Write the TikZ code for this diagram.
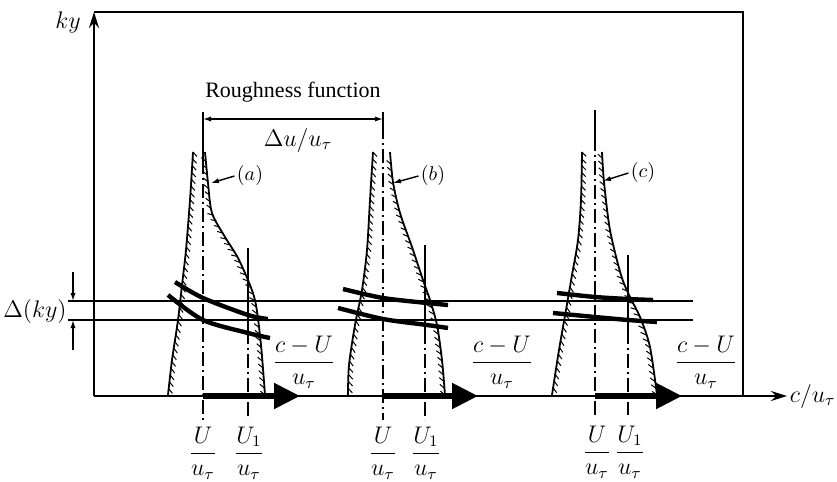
\documentclass[tikz,border=0pt]{standalone}
\usepackage{amsmath}
\usepackage{fontspec}
\setmainfont{Liberation Serif}
\usetikzlibrary{arrows.meta,decorations.pathreplacing}

\newcommand{\velfrac}[2]{$\dfrac{#1}{#2}$}
\newcommand{\drawwall}[1]{\draw[wall] plot[smooth] coordinates {#1};
    \path[hatch] plot coordinates {#1};}

\begin{document}
\begin{tikzpicture}[x=0.5pt,y=-0.5pt,
        wall/.style={line width=0.9pt},
        hatch/.style={draw, line width=0.5pt, decorate,
            decoration={border, segment length=3.4pt, amplitude=3pt, angle=45}},
        band/.style={line width=2.2pt},
        midline/.style={line width=0.7pt, dash pattern=on 7pt off 2pt on 1pt off 2pt},
        bigarrow/.style={line width=2.6pt, -{Triangle[length=13pt,width=12.5pt]}},
        small/.style={-{Latex[length=4pt,width=2.6pt]}},
        lbl/.style={font=\fontsize{11.5}{13}\selectfont, inner sep=0pt}]
        \useasboundingbox (0,0) rectangle (837,482);
        \coordinate (O) at (94,396);
        \coordinate (T) at (94,12);
        \coordinate (TR) at (743,12);
        \coordinate (BR) at (743,396);
        \coordinate (X) at (787,396);
        \draw[line width=1pt, -{Stealth[length=8pt,width=5pt]}] (O) -- (T);
        \draw[line width=1pt] (T) -- (TR) -- (BR);
        \draw[line width=1pt, -{Stealth[length=8pt,width=5pt]}] (O) -- (X);
        \node[lbl] (ky) at (68,22) {$ky$};
        \node[lbl, anchor=east] (cu) at (836,396) {$c/u_\tau$};
        \coordinate (H1l) at (68,301); \coordinate (H1r) at (693,301);
        \coordinate (H2l) at (68,320); \coordinate (H2r) at (693,320);
        \draw[line width=0.7pt] (H1l) -- (H1r);
        \draw[line width=0.7pt] (H2l) -- (H2r);
        \draw[line width=0.7pt, small] (73,272) -- (73,301);
        \draw[line width=0.7pt, small] (73,350) -- (73,320);
        \node[lbl] (dky) at (35,311) {$\Delta(ky)$};
        \coordinate (Ua) at (203,396); \coordinate (Ub) at (383,396); \coordinate (Uc) at (595,396);
        \draw[line width=0.7pt] (203,112) -- (203,160);
        \draw[midline] (203,160) -- (203,420);
        \draw[line width=0.7pt] (383,112) -- (383,125);
        \draw[midline] (383,125) -- (383,420);
        \draw[line width=0.7pt] (595,110) -- (595,137);
        \draw[midline] (595,137) -- (595,415);
        \draw[line width=0.7pt] (248,248) -- (248,330);
        \draw[midline] (248,330) -- (248,420);
        \draw[line width=0.7pt] (425,245) -- (425,330);
        \draw[midline] (425,330) -- (425,420);
        \draw[line width=0.7pt] (628,255) -- (628,330);
        \draw[midline] (628,330) -- (628,415);
        \draw[line width=0.7pt, small] (292,119) -- (203,119);
        \draw[line width=0.7pt, small] (292,119) -- (383,119);
        \node[lbl, font=\fontsize{11}{13}\selectfont] (rough) at (293,92) {Roughness function};
        \node[lbl] (du) at (298,140) {$\Delta u/u_\tau$};
        \drawwall{(193,152) (190,200) (186,250) (182,285) (178,320) (172,360) (168,395)}
        \drawwall{(265,395) (261,345) (256,305) (250,285) (238,258) (225,237) (212,213) (208,183) (205,152)}
        \drawwall{(373,152) (370,200) (367,250) (362,290) (355,325) (349,365) (348,395)}
        \drawwall{(445,395) (442,360) (437,325) (430,300) (423,280) (412,247) (400,213) (393,182) (390,152)}
        \drawwall{(582,152) (581,200) (578,240) (572,275) (566,310) (559,350) (552,395)}
        \drawwall{(657,395) (650,347) (640,317) (630,297) (621,275) (610,230) (604,182) (602,152)}
        \draw[band] plot[smooth] coordinates {(175,282) (203,298) (248,315) (268,319)};
        \draw[band] plot[smooth] coordinates {(168,295) (203,320) (248,333) (270,338)};
        \draw[band] plot[smooth] coordinates {(343,289) (383,298) (427,303) (448,305)};
        \draw[band] plot[smooth] coordinates {(338,308) (383,319) (427,325) (448,328)};
        \draw[band] plot[smooth] coordinates {(557,293) (595,297) (628,299) (653,300)};
        \draw[band] plot[smooth] coordinates {(553,313) (595,317) (628,320) (657,322)};
        \node[lbl, font=\fontsize{10}{12}\selectfont] (pa) at (250,175) {$(a)$};
        \node[lbl, font=\fontsize{10}{12}\selectfont] (pb) at (433,175) {$(b)$};
        \node[lbl, font=\fontsize{10}{12}\selectfont] (pc) at (643,172) {$(c)$};
        \coordinate (wa) at (211,183); \coordinate (wb) at (393,183); \coordinate (wc) at (603,181);
        \draw[line width=0.7pt, small] (pa.west) ++(-2,1) -- (wa);
        \draw[line width=0.7pt, small] (pb.west) ++(-2,1) -- (wb);
        \draw[line width=0.7pt, small] (pc.west) ++(-2,1) -- (wc);
        \draw[bigarrow] (Ua) -- (300,396);
        \draw[bigarrow] (Ub) -- (478,396);
        \draw[bigarrow] (Uc) -- (682,396);
        \node[lbl] (cua) at (304,362) {\velfrac{c-U}{u_\tau}};
        \node[lbl] (cub) at (502,362) {\velfrac{c-U}{u_\tau}};
        \node[lbl] (cuc) at (706,362) {\velfrac{c-U}{u_\tau}};
        \node[lbl] (fUa) at (203,453) {\velfrac{U}{u_\tau}};
        \node[lbl] (fVa) at (249,453) {\velfrac{U_1}{u_\tau}};
        \node[lbl] (fUb) at (383,453) {\velfrac{U}{u_\tau}};
        \node[lbl] (fVb) at (426,453) {\velfrac{U_1}{u_\tau}};
        \node[lbl] (fUc) at (597,452) {\velfrac{U}{u_\tau}};
        \node[lbl] (fVc) at (630,452) {\velfrac{U_1}{u_\tau}};
    \end{tikzpicture}
\end{document}
